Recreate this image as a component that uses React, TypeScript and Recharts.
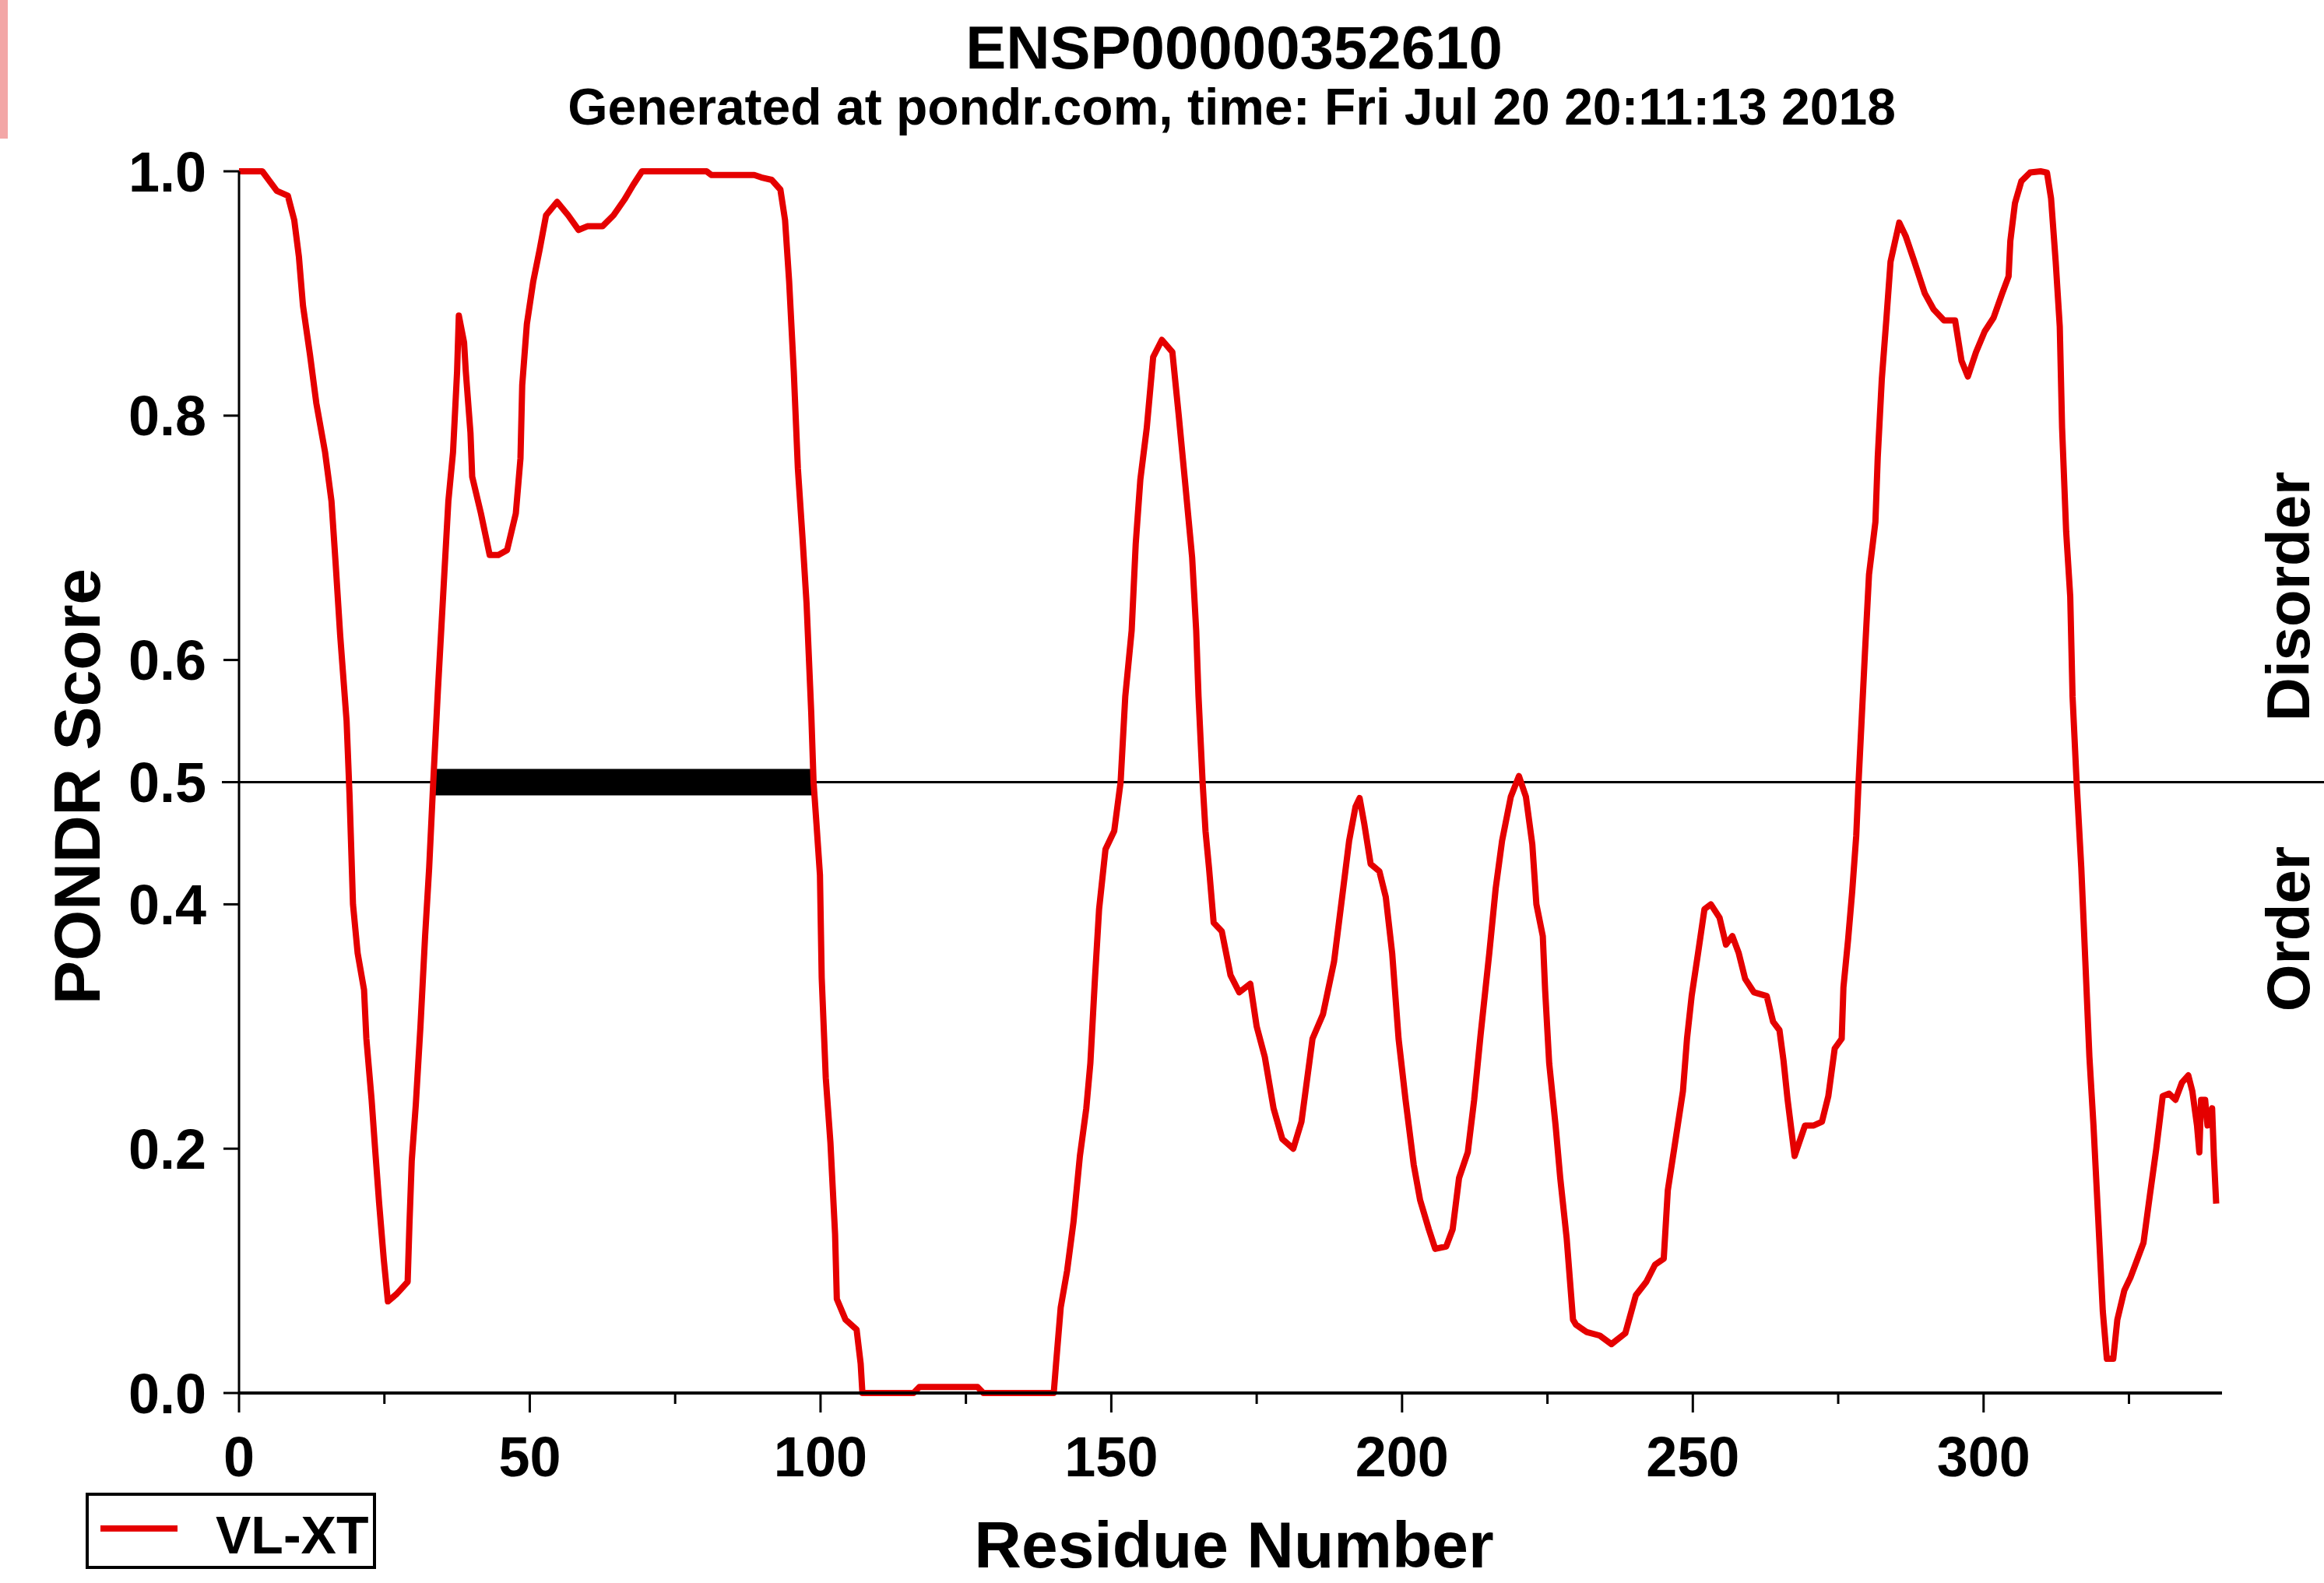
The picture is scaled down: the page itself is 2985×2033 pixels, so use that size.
import { LineChart, Line, XAxis, YAxis, ReferenceLine, Legend } from "recharts";

// PONDR VL-XT prediction (residue, score)
const residues = [
  0, 4, 6.5, 8.4, 9.5, 10.3, 11, 12.2, 13.3, 14.8, 15.9, 16.6, 17.4, 18.5, 19.0, 19.6, 20.4, 21.5, 21.9, 22.8,
  23.4, 24.1, 24.9, 25.6, 27.1, 29, 29.3, 29.7, 30.4, 31.2, 32, 32.7, 33.4, 34.2, 35.3, 36, 36.8, 37.5, 37.8, 38.7,
  39, 39.8, 40.1, 41.6, 43.1, 44.6, 46.1, 47.6, 48.4, 48.7, 49.5, 50.6, 51.7, 52.8, 54.7, 56.6, 58.4, 59.9, 62.5, 64.4,
  66.3, 67.8, 69.3, 71.5, 80.4, 81.2, 88.6, 89.8, 91.6, 93.1, 93.9, 94.6, 95.4, 96.1, 96.9, 97.6, 98.4, 98.8, 99.3, 99.9,
  100.2, 100.9, 101.7, 102.5, 102.8, 104.3, 106.2, 106.9, 107.2, 116, 117, 127, 128, 140.1, 140.5, 141.3, 142.4, 143.5, 144.6, 145.7,
  146.4, 147.2, 147.9, 149, 150.5, 151.6, 152.4, 153.5, 154.2, 155, 156.1, 157.2, 158.7, 160.5, 161.6, 162.7, 163.9, 164.6, 165, 165.7,
  166.2, 166.8, 167.6, 169, 170.5, 172, 173.9, 175, 176.4, 177.9, 179.4, 181.3, 182.7, 184.6, 186.4, 188.3, 189.8, 190.9, 192, 192.7,
  193.5, 194.6, 196.1, 197.2, 198.3, 199.4, 200.6, 202, 203.1, 204.6, 205.7, 207.6, 208.7, 209.8, 211.3, 212.4, 213.5, 215, 216.1, 217.2,
  218.7, 220.1, 221.3, 222.4, 223.1, 224.2, 224.6, 225.3, 226.4, 227.2, 228.3, 229.4, 229.9, 231.7, 234, 236, 238.4, 240.2, 242, 243.5,
  245, 245.7, 246.8, 248.3, 249, 249.8, 250.9, 252, 253.1, 254.6, 255.7, 256.8, 257.9, 259, 260.5, 262.7, 263.8, 264.9, 265.6, 266.3,
  267.5, 269.3, 270.8, 272.2, 273.3, 274.4, 275.6, 275.9, 276.7, 277.4, 278.1, 278.5, 279.6, 280.3, 281.4, 281.8, 282.5, 283.3, 284, 285.5,
  286.6, 288.1, 289.9, 291.4, 293.2, 295.1, 296.2, 297.3, 298.7, 300.2, 301.7, 303.2, 304.3, 304.6, 305.4, 306.5, 308, 309.8, 310.9, 311.6,
  312.4, 313.1, 313.5, 314.2, 314.9, 315.3, 316, 316.8, 317.5, 318.2, 318.9, 319.7, 320.5, 321.2, 322.3, 323, 324.2, 325.3, 326.4, 327.5,
  328.6, 329.7, 330.8, 331.9, 333, 334.1, 335.2, 335.9, 336.7, 337.1, 337.4, 338.1, 338.5, 339.3, 339.6, 340,
];

const scores = [
  1.0, 1.0, 0.984, 0.98, 0.96, 0.93, 0.89, 0.85, 0.81, 0.77, 0.73, 0.68, 0.62, 0.55, 0.49, 0.4, 0.36, 0.33, 0.29, 0.24,
  0.2, 0.155, 0.109, 0.075, 0.081, 0.091, 0.137, 0.19, 0.236, 0.3, 0.374, 0.43, 0.5, 0.575, 0.67, 0.73, 0.77, 0.836, 0.882, 0.86,
  0.836, 0.786, 0.75, 0.72, 0.686, 0.686, 0.69, 0.72, 0.765, 0.825, 0.875, 0.91, 0.936, 0.964, 0.975, 0.964, 0.952, 0.955, 0.955, 0.964,
  0.977, 0.989, 1.0, 1.0, 1.0, 0.997, 0.997, 0.995, 0.993, 0.985, 0.96, 0.91, 0.836, 0.757, 0.7, 0.646, 0.557, 0.5, 0.466, 0.424,
  0.34, 0.258, 0.205, 0.13, 0.077, 0.06, 0.052, 0.024, 0, 0, 0.005, 0.005, 0, 0, 0.024, 0.07, 0.1, 0.14, 0.194, 0.233,
  0.27, 0.34, 0.396, 0.445, 0.46, 0.5, 0.57, 0.624, 0.695, 0.748, 0.79, 0.848, 0.862, 0.852, 0.8, 0.745, 0.684, 0.624, 0.57, 0.5,
  0.46, 0.43, 0.385, 0.378, 0.342, 0.328, 0.335, 0.3, 0.275, 0.233, 0.208, 0.2, 0.222, 0.29, 0.31, 0.353, 0.41, 0.452, 0.48, 0.487,
  0.466, 0.433, 0.427, 0.406, 0.36, 0.29, 0.24, 0.187, 0.158, 0.134, 0.118, 0.12, 0.134, 0.176, 0.197, 0.24, 0.293, 0.36, 0.413, 0.452,
  0.488, 0.505, 0.488, 0.449, 0.4, 0.374, 0.33, 0.27, 0.219, 0.176, 0.127, 0.06, 0.056, 0.05, 0.047, 0.04, 0.049, 0.08, 0.091, 0.105,
  0.11, 0.166, 0.2, 0.247, 0.29, 0.325, 0.36, 0.396, 0.4, 0.389, 0.367, 0.374, 0.36, 0.339, 0.328, 0.325, 0.304, 0.297, 0.272, 0.24,
  0.194, 0.219, 0.219, 0.222, 0.243, 0.282, 0.29, 0.332, 0.371, 0.41, 0.456, 0.5, 0.606, 0.67, 0.713, 0.766, 0.83, 0.88, 0.926, 0.958,
  0.947, 0.926, 0.9, 0.887, 0.878, 0.878, 0.845, 0.832, 0.852, 0.869, 0.88, 0.9, 0.914, 0.943, 0.974, 0.992, 0.999, 1.0, 0.999, 0.978,
  0.926, 0.873, 0.79, 0.705, 0.652, 0.57, 0.5, 0.43, 0.353, 0.275, 0.219, 0.144, 0.067, 0.028, 0.028, 0.06, 0.084, 0.095, 0.109, 0.123,
  0.162, 0.2, 0.243, 0.245, 0.24, 0.254, 0.26, 0.247, 0.219, 0.197, 0.24, 0.24, 0.219, 0.233, 0.194, 0.155,
];

const xTicks = [0, 25, 50, 75, 100, 125, 150, 175, 200, 225, 250, 275, 300, 325];
const xLabelEvery = 50;
const yTicks = [0, 0.2, 0.4, 0.5, 0.6, 0.8, 1.0];
const threshold = 0.5;
const disorderedRegions = [[33.4, 98.6]];

const proteinId = "ENSP00000352610";
const subtitle = "Generated at pondr.com, time: Fri Jul 20 20:11:13 2018";
const seriesName = "VL-XT";

const data = residues.map((r, i) => ({ residue: r, score: scores[i] }));

const W = 2985;
const H = 2033;
const RED = "#e50000";
const FONT = '"Liberation Sans", Arial, Helvetica, sans-serif';

const XTick = (props: any) => {
  const { x, y, payload } = props;
  const major = payload.value % xLabelEvery === 0;
  return (
    <g>
      <line x1={x} y1={y} x2={x} y2={y + (major ? 25 : 14)} stroke="#000" strokeWidth={3} />
      {major && (
        <text x={x} y={y + 107} textAnchor="middle" fontSize={72} fontWeight="bold" fontFamily={FONT} fill="#000">
          {payload.value}
        </text>
      )}
    </g>
  );
};

const LegendBox = (props: any) => {
  const item = props.payload && props.payload[0];
  return (
    <svg width={373} height={98} style={{ display: "block" }}>
      <rect x={2} y={2} width={369} height={94} fill="#fff" stroke="#000" strokeWidth={4} />
      <line x1={19} x2={118} y1={46} y2={46} stroke={item ? item.color : RED} strokeWidth={8} />
      <text x={167} y={78} fontSize={68} fontWeight="bold" fontFamily={FONT} fill="#000">
        {item ? item.value : seriesName}
      </text>
    </svg>
  );
};

const ThresholdLine = (p: any) => (
  <line x1={p.x1 - 22} y1={p.y1} x2={W} y2={p.y2} stroke="#000" strokeWidth={3} />
);

export default function App() {
  return (
    <div style={{ position: "absolute", left: 0, top: 0, width: W, height: H, background: "#fff" }}>
      <div style={{ position: "absolute", left: 0, top: 0, width: 10, height: 178, background: "#f3a6a6" }} />
      <LineChart width={W} height={H} data={data} margin={{ top: 220, right: 131, bottom: 0, left: 0 }}>
        <XAxis
          dataKey="residue"
          type="number"
          domain={[0, 341]}
          ticks={xTicks}
          interval={0}
          tick={<XTick />}
          tickLine={false}
          tickSize={0}
          tickMargin={0}
          height={244}
          axisLine={{ stroke: "#000", strokeWidth: 4 }}
          allowDataOverflow
        />
        <YAxis
          type="number"
          domain={[0, 1]}
          ticks={yTicks}
          interval={0}
          width={307}
          tickSize={20}
          tickMargin={22}
          tickFormatter={(v: number) => v.toFixed(1)}
          tick={{ fill: "#000", fontSize: 72, fontWeight: "bold", fontFamily: FONT }}
          tickLine={{ stroke: "#000", strokeWidth: 3 }}
          axisLine={{ stroke: "#000", strokeWidth: 3 }}
        />
        <ReferenceLine y={threshold} shape={ThresholdLine} />
        {disorderedRegions.map(([a, b]) => (
          <ReferenceLine
            key={a}
            segment={[{ x: a, y: threshold }, { x: b, y: threshold }]}
            stroke="#000"
            strokeWidth={34}
          />
        ))}
        <Line
          type="linear"
          dataKey="score"
          name={seriesName}
          stroke={RED}
          strokeWidth={8}
          strokeLinejoin="round"
          dot={false}
          activeDot={false}
          isAnimationActive={false}
        />
        <Legend
          layout="horizontal"
          verticalAlign="middle"
          align="center"
          content={<LegendBox />}
          wrapperStyle={{ left: 110, top: 1917, width: 373, height: 98 }}
        />
      </LineChart>
      <svg width={W} height={H} style={{ position: "absolute", left: 0, top: 0, pointerEvents: "none" }}>
        <g fontFamily={FONT} fontWeight="bold" fill="#000">
          <text x={1585} y={88} fontSize={78} textAnchor="middle">{proteinId}</text>
          <text x={1582} y={160} fontSize={66} textAnchor="middle">{subtitle}</text>
          <text transform="translate(128,1010) rotate(-90)" fontSize={84} textAnchor="middle">PONDR Score</text>
          <text x={1585} y={2013} fontSize={84} textAnchor="middle">Residue Number</text>
          <text transform="translate(2966,766) rotate(-90)" fontSize={78} textAnchor="middle">Disorder</text>
          <text transform="translate(2966,1193) rotate(-90)" fontSize={78} textAnchor="middle">Order</text>
        </g>
      </svg>
    </div>
  );
}
